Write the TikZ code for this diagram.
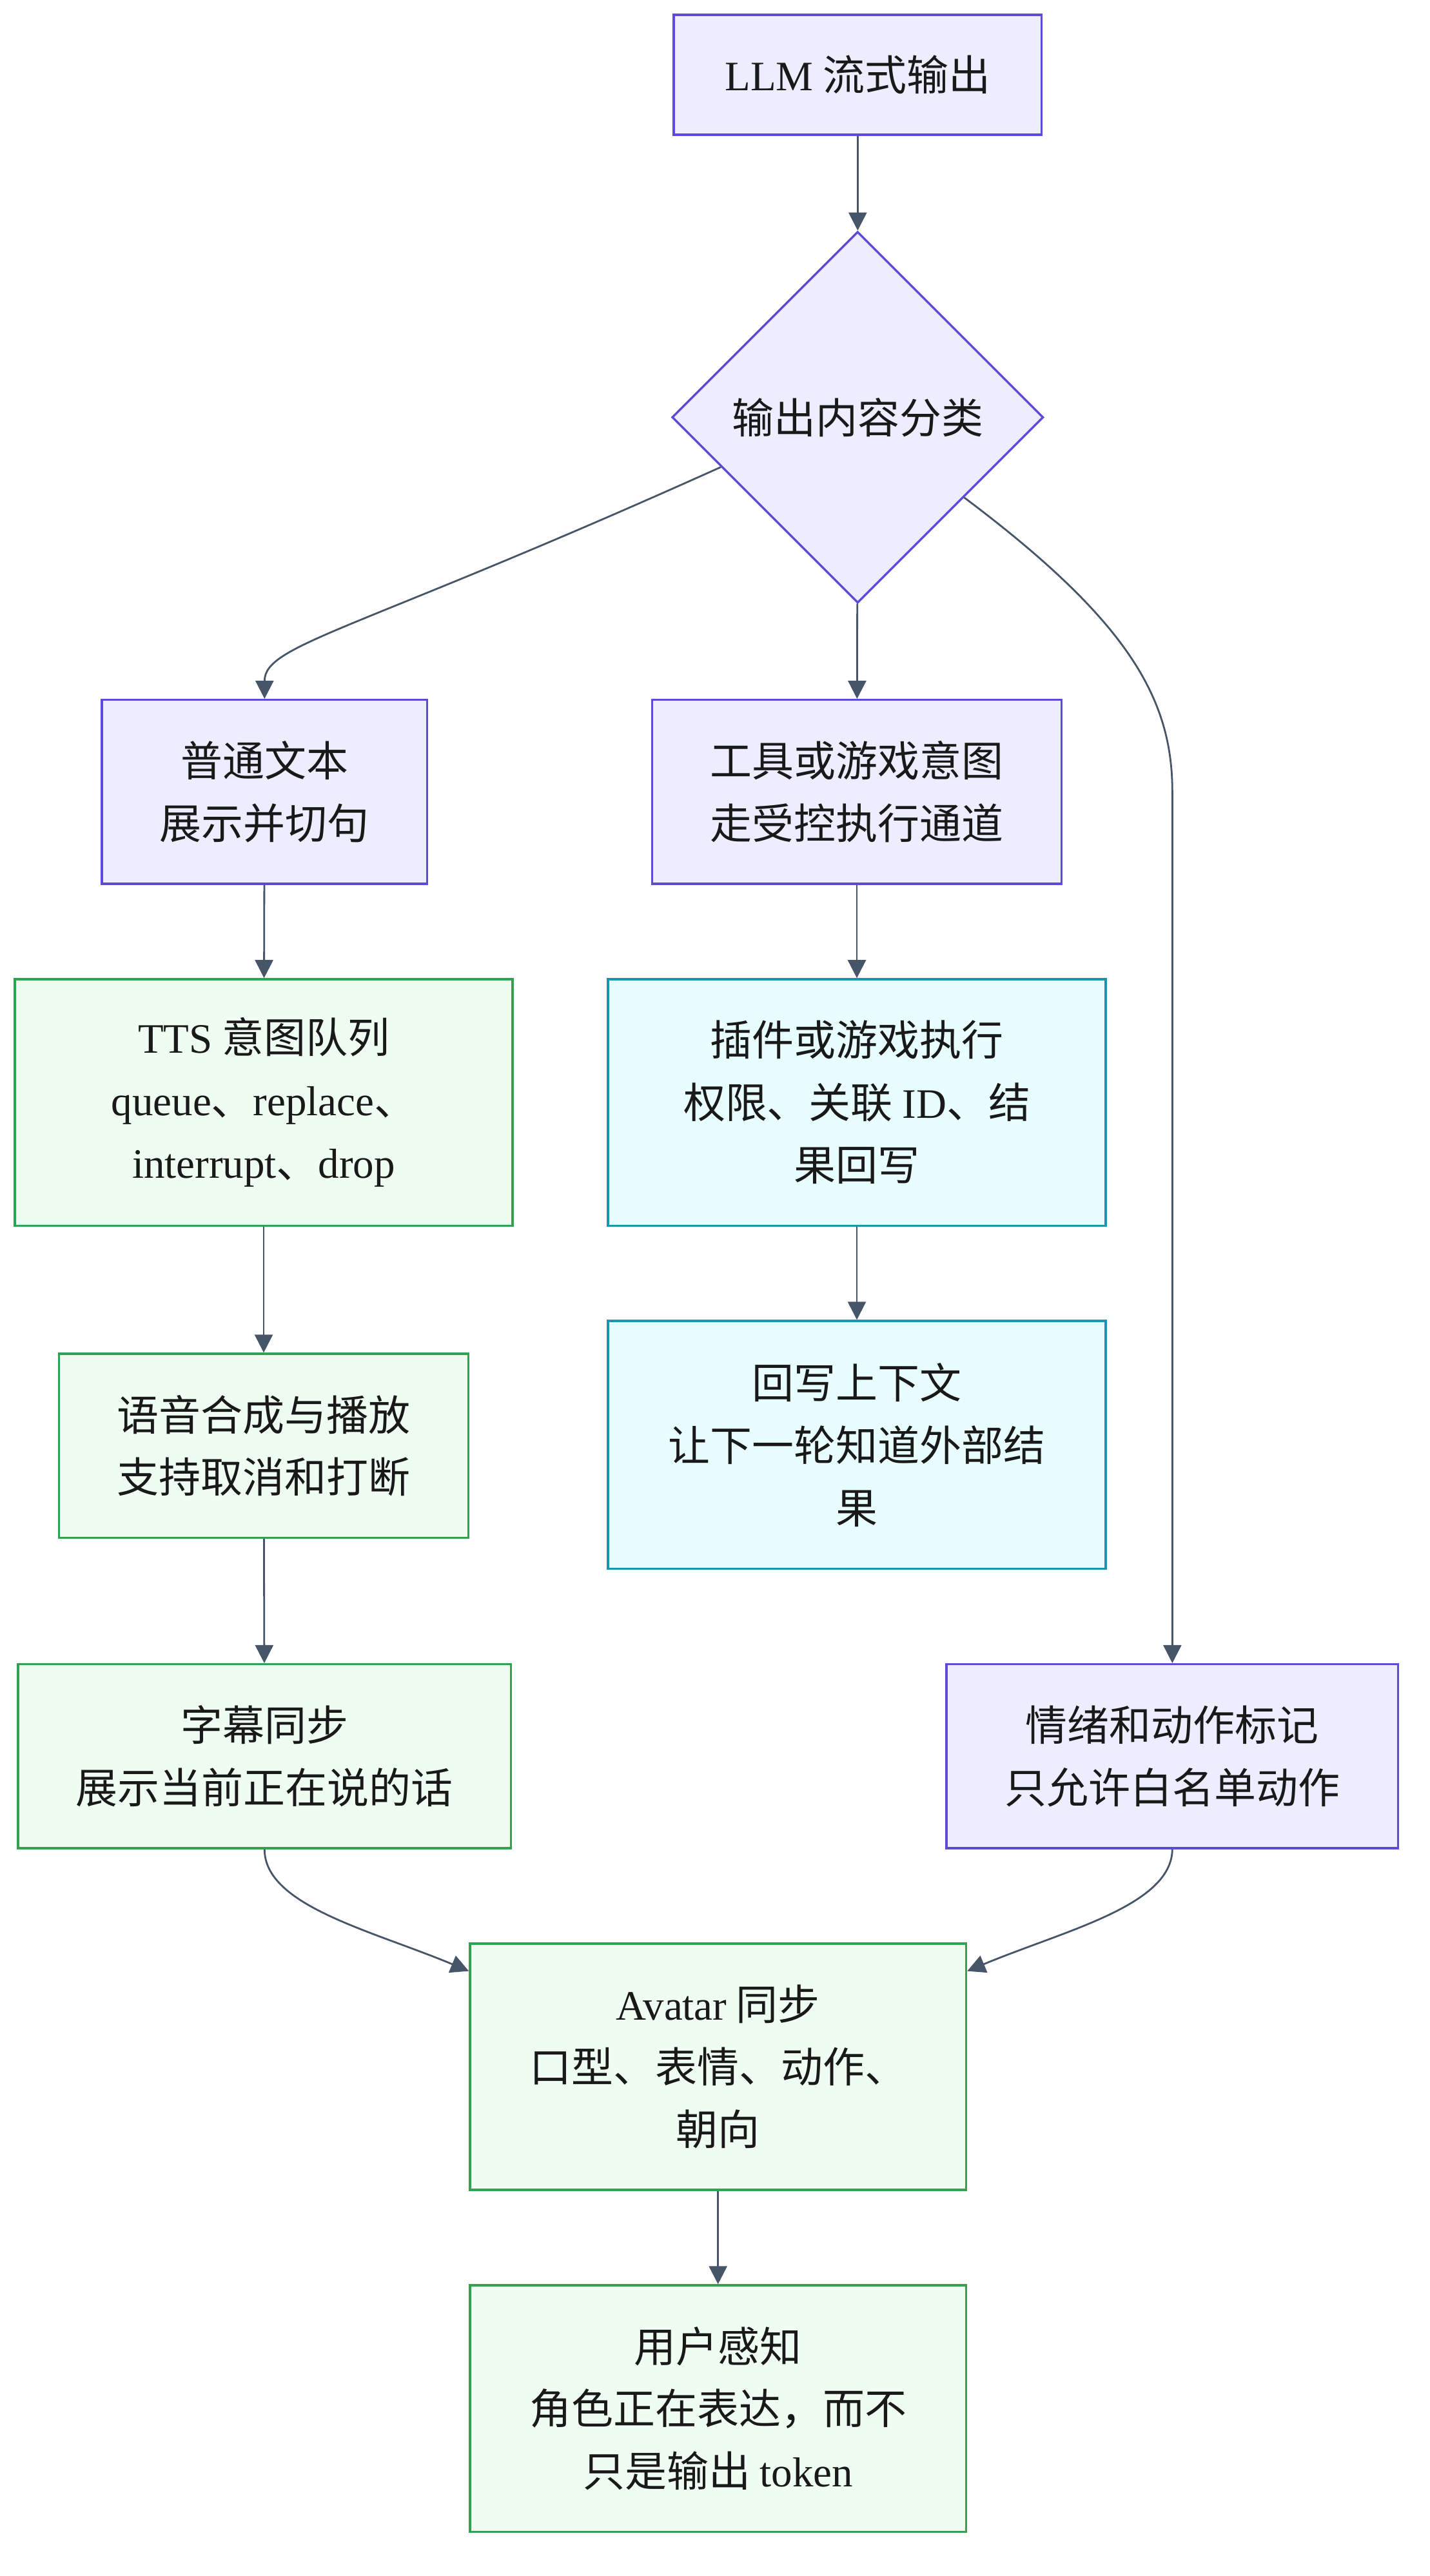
\documentclass[tikz,border=0pt]{standalone}
\usepackage{fontspec}
\setmainfont{Liberation Serif}
\newfontfamily\zh{Noto Sans CJK SC}
\usepackage{tikz}
\usetikzlibrary{arrows.meta, shapes.geometric}

\definecolor{flowfill}{HTML}{ECEEFF}
\definecolor{flowline}{HTML}{5B4BD8}
\definecolor{speakfill}{HTML}{EFFCF2}
\definecolor{speakline}{HTML}{2FA350}
\definecolor{toolfill}{HTML}{E8FDFE}
\definecolor{toolline}{HTML}{1A95B0}
\definecolor{edgeline}{HTML}{475569}

\begin{document}
\begin{tikzpicture}[
        x=1pt, y=-1pt,
        base/.style={draw, line width=1.3pt, align=center, inner sep=0pt, text=black!90,
            font=\zh\fontsize{25.5}{38}\selectfont},
        flow/.style={base, fill=flowfill, draw=flowline},
        speak/.style={base, fill=speakfill, draw=speakline},
        tool/.style={base, fill=toolfill, draw=toolline},
        choice/.style={flow, diamond, aspect=1, minimum size=226pt},
        arr/.style={-{Triangle[length=11pt, width=11pt, fill=edgeline]}, line width=1.1pt, draw=edgeline}
    ]
    \useasboundingbox (0,0) rectangle (870,1568);

    \node[flow, minimum width=224pt, minimum height=73pt] (llm) at (522,45.5) {{\rmfamily LLM} 流式输出};
    \node[choice] (cls) at (522,254) {输出内容分类};

    \node[flow, minimum width=198pt, minimum height=112pt] (plain) at (161,482) {普通文本\\展示并切句};
    \node[flow, minimum width=249pt, minimum height=112pt] (intent) at (521.5,482) {工具或游戏意图\\走受控执行通道};

    \node[speak, minimum width=303pt, minimum height=150pt] (tts) at (160.5,671) {{\rmfamily TTS} 意图队列\\{\rmfamily queue}、{\rmfamily replace}、\\{\rmfamily interrupt}、{\rmfamily drop}};
    \node[tool, minimum width=303pt, minimum height=150pt] (plugin) at (521.5,671) {插件或游戏执行\\权限、关联 {\rmfamily ID}、结\\果回写};

    \node[speak, minimum width=249pt, minimum height=112pt] (voice) at (160.5,880) {语音合成与播放\\支持取消和打断};
    \node[tool, minimum width=303pt, minimum height=151pt] (writeback) at (521.5,879.5) {回写上下文\\让下一轮知道外部结\\果};

    \node[speak, minimum width=300pt, minimum height=112pt] (subs) at (161,1069) {字幕同步\\展示当前正在说的话};
    \node[flow, minimum width=275pt, minimum height=112pt] (emo) at (713.5,1069) {情绪和动作标记\\只允许白名单动作};

    \node[speak, minimum width=302pt, minimum height=150pt] (avatar) at (437,1258) {{\rmfamily Avatar} 同步\\口型、表情、动作、\\朝向};
    \node[speak, minimum width=302pt, minimum height=150pt] (user) at (437,1466) {用户感知\\角色正在表达，而不\\只是输出 {\rmfamily token}};

    \draw[arr] (llm) -- (cls);
    \draw[arr] (cls.200) .. controls (215,385) and (161,392) .. (plain.north);
    \draw[arr] (cls) -- (intent);
    \draw[arr] (cls.323) .. controls (687,378) and (emo.north |- intent.north) .. (emo.north |- intent.center) -- (emo.north);
    \draw[arr] (plain) -- (tts);
    \draw[arr] (tts) -- (voice);
    \draw[arr] (voice) -- (subs);
    \draw[arr] (intent) -- (plugin);
    \draw[arr] (plugin) -- (writeback);
    \draw[arr] (subs.south) .. controls (161,1160) and (226,1175) .. (avatar.159);
    \draw[arr] (emo.south) .. controls (713,1160) and (648,1175) .. (avatar.21);
    \draw[arr] (avatar) -- (user);
\end{tikzpicture}
\end{document}
